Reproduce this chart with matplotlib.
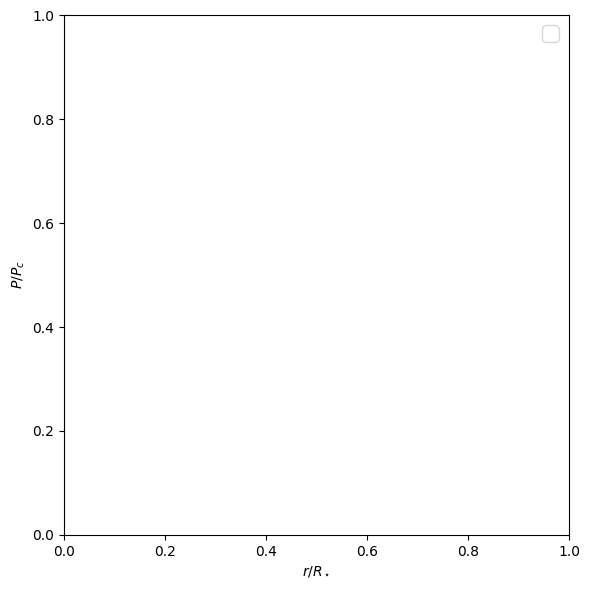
import numpy as np
import matplotlib
matplotlib.use('Agg')
import matplotlib.pyplot as plt

# profile data (nothing was plotted in the reference figure)
radius = np.array([])
pressure = np.array([])


def plot_profile(r, p):
    """ Pressure profile plot """
    fig = plt.figure(figsize=(5.9, 5.89), dpi=100)
    ax = fig.add_subplot(111)
    ax.plot(r, p)
    ax.set_xlim(0., 1.)
    ax.set_ylim(0., 1.)
    ax.set_xlabel(r'$r/R_\star$')
    ax.set_ylabel(r'$P/P_c$')
    ax.legend(loc='upper right', fontsize=15)
    fig.subplots_adjust(left=0.1085, right=0.9644, top=0.9745, bottom=0.0917)
    fig.savefig('out.png')


if __name__ == '__main__':
    plot_profile(radius, pressure)
